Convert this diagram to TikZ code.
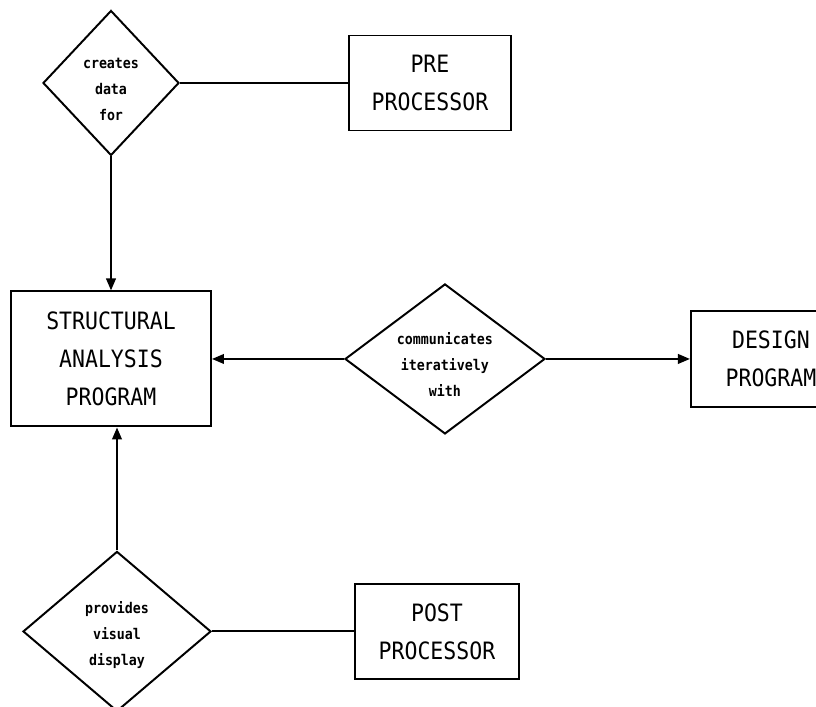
\documentclass[tikz,border=0pt]{standalone}
\usepackage{fontspec}
\setmonofont[FakeStretch=0.9]{DejaVu Sans Mono}
\usepackage{tikz}
\usetikzlibrary{positioning,shapes.geometric,arrows.meta}

\begin{document}
\begin{tikzpicture}[->, >={Triangle[length=3mm,width=2.4mm]}, line width=1.4pt,
    ent/.style={draw, rectangle, align=center,
        font=\ttfamily\fontsize{17}{27}\selectfont},
    rel/.style={draw, diamond, inner sep=0pt},
    reltext/.style={align=center,
        font=\ttfamily\bfseries\fontsize{10.5}{18.5}\selectfont}]
        \useasboundingbox (0,0) rectangle (20.4,17.675);
        \clip (0,0) rectangle (20.4,17.675);

        \node[rel, minimum width=3.4cm, minimum height=3.625cm,
            label={[reltext, yshift=-0.15cm]center:{creates\\data\\for}}]
            (cr) at (2.775,15.6) {};
        \node[ent, right = 4.2 of cr, minimum width=4.05cm,
            minimum height=2.375cm](pre){PRE\\PROCESSOR};

        \node[ent, below = 3.35 of cr, minimum width=5cm,
            minimum height=3.375cm](sap){STRUCTURAL\\ANALYSIS\\PROGRAM};
        \node[rel, right = 3.3 of sap, minimum width=5cm, minimum height=3.75cm,
            label={[reltext, yshift=-0.15cm]center:{communicates\\iteratively\\with}}]
            (com){};
        \node[ent, right = 3.6 of com, minimum width=4cm,
            minimum height=2.4cm](des){DESIGN\\PROGRAM};

        \node[rel, below = 3.075 of sap, xshift=0.15cm,
            minimum width=4.7cm, minimum height=4cm,
            label={[reltext, yshift=-0.1cm]center:{provides\\visual\\display}}]
            (pv){};
        \node[ent, right = 3.55 of pv, minimum width=4.1cm,
            minimum height=2.375cm](post){POST\\PROCESSOR};

        \draw[-] (cr) -- (pre);
        \draw (cr.south) -- (cr.south |- sap.north);
        \draw (com) -- (sap);
        \draw (com) -- (des);
        \draw (pv.north) -- (pv.north |- sap.south);
        \draw[-] (pv) -- (post);
\end{tikzpicture}
\end{document}
